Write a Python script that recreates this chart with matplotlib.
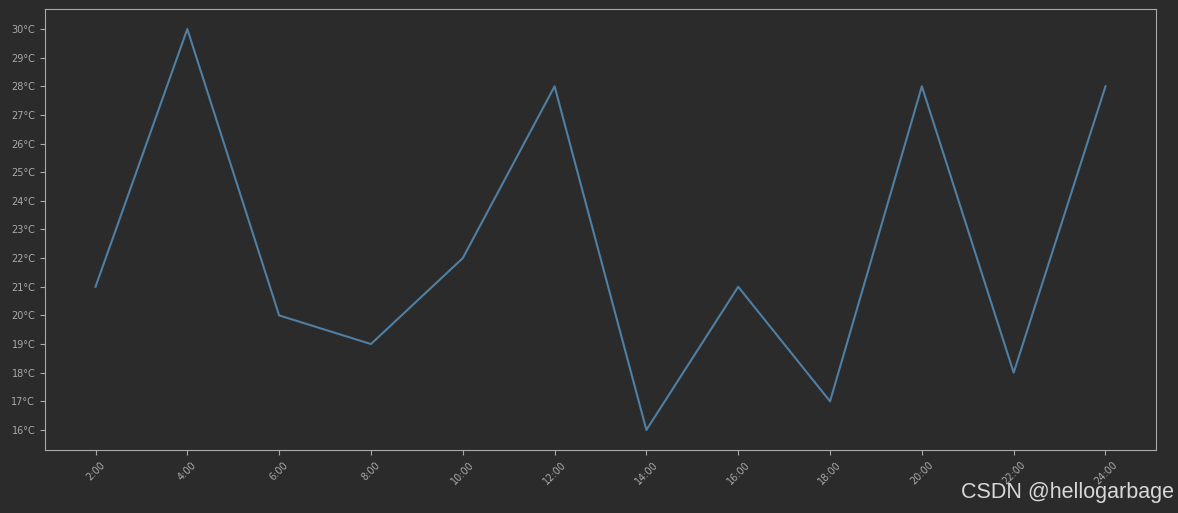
import matplotlib
matplotlib.use('Agg')
import matplotlib.pyplot as plt

hours = ['2:00', '4:00', '6:00', '8:00', '10:00', '12:00',
         '14:00', '16:00', '18:00', '20:00', '22:00', '24:00']
temps = [21, 30, 20, 19, 22, 28, 16, 21, 17, 28, 18, 28]
yticks = list(range(16, 31))

bg = '#2b2b2b'
fig = plt.figure(figsize=(11.78, 5.13), dpi=100, facecolor=bg)
ax = fig.add_axes([45 / 1178, 1 - 450 / 513, (1156 - 45) / 1178, (450 - 9) / 513])
ax.set_facecolor(bg)

x = list(range(len(hours)))
ax.plot(x, temps, color='#4f7fa3', lw=1.5)

ax.set_xticks(x)
ax.set_xticklabels(hours, rotation=45, fontsize=7, color='#999999')
ax.set_yticks(yticks)
ax.set_yticklabels([f'{t}°C' for t in yticks], fontsize=7, color='#aaaaaa')
ax.tick_params(colors='#aaaaaa', length=3.5)
for sp in ax.spines.values():
    sp.set_color('#aaaaaa')

fig.text(0.997, 0.02, 'CSDN @hellogarbage', ha='right', va='bottom',
         fontsize=15.5, color='#d8d8d8', family='Liberation Sans')

fig.savefig('out.png', dpi=100, facecolor=bg)
